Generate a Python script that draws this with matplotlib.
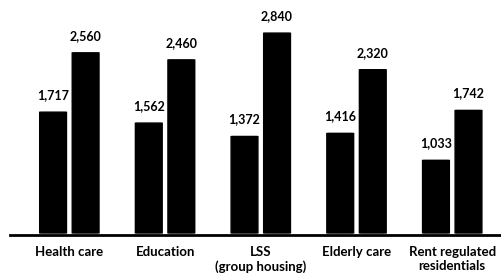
import numpy as np
import matplotlib
matplotlib.use('Agg')
import matplotlib.pyplot as plt
from matplotlib.patches import FancyBboxPatch

categories = ["Health care", "Education", "LSS\n(group housing)", "Elderly care",
              "Rent regulated\nresidentials"]
series_a = [1717, 1562, 1372, 1416, 1033]
series_b = [2560, 2460, 2840, 2320, 1742]

plt.rcParams['font.family'] = ['Lato', 'DejaVu Sans']
fig = plt.figure(figsize=(5.02, 2.75), dpi=100)
ax = fig.add_axes([10 / 502, 40 / 275, 492 / 502, 235 / 275])

x = np.arange(len(categories))
w = 0.28
off = 0.17
bars_a = ax.bar(x - off, series_a, width=w, color='black')
bars_b = ax.bar(x + off, series_b, width=w, color='black')

# round off the bar corners a little
for b in list(bars_a) + list(bars_b):
    b.set_visible(False)
    p = FancyBboxPatch((b.get_x(), 0), b.get_width(), b.get_height(),
                       boxstyle="round,pad=0,rounding_size=0.03",
                       mutation_aspect=75, color='black')
    ax.add_patch(p)

for bars, vals in ((bars_a, series_a), (bars_b, series_b)):
    for b, v in zip(bars, vals):
        ax.annotate(f"{v:,}", (b.get_x() + b.get_width() / 2, v),
                    xytext=(0, 8), textcoords='offset points',
                    ha='center', va='bottom', fontsize=9, fontweight='bold')

ax.set_xlim(-0.62, 4.52)
ax.set_ylim(-28, 3310)
ax.set_xticks(x)
ax.set_xticklabels(categories, fontsize=9.5, fontweight='bold', linespacing=1.2)
ax.tick_params(axis='x', length=0, pad=8)
ax.set_yticks([])
for s in ['top', 'right', 'left']:
    ax.spines[s].set_visible(False)
ax.spines['bottom'].set_linewidth(2)

fig.savefig("out.png", dpi=100)
